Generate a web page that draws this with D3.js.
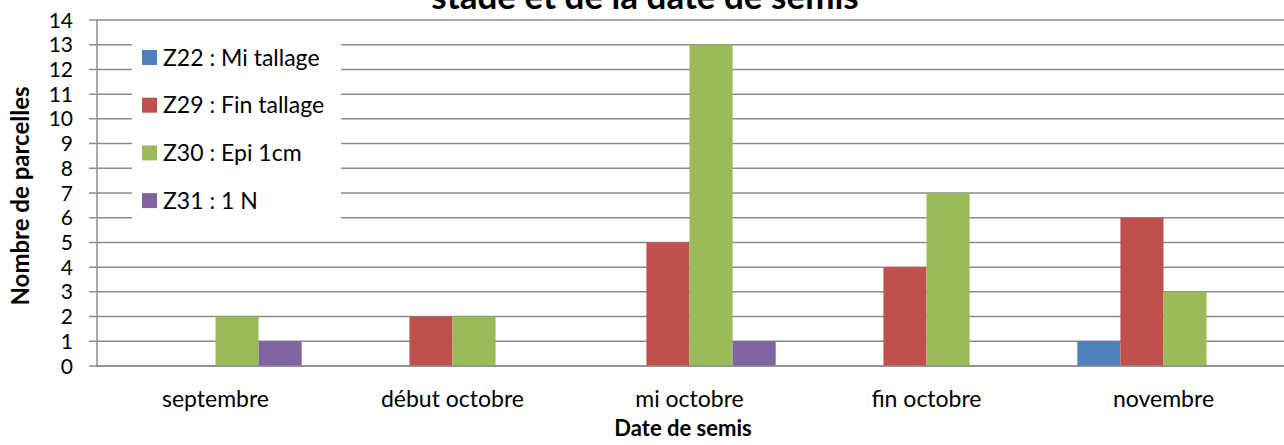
<!DOCTYPE html>
<html><head><meta charset="utf-8">
<script src="https://cdn.jsdelivr.net/npm/d3@7"></script>
<style>body{margin:0;background:#fff}svg{display:block}</style>
</head><body>
<svg id="c" width="1284" height="445"></svg>
<script>
const categories = ["septembre","début octobre","mi octobre","fin octobre","novembre"];
const seriesNames = ["Z22 : Mi tallage","Z29 : Fin tallage","Z30 : Epi 1cm","Z31 : 1 N"];
const z22 = [0,0,0,0,1];
const z29 = [0,2,5,4,6];
const z30 = [2,2,13,7,3];
const z31 = [1,0,1,0,0];
const colors = ["#4F81BD","#C0504D","#9BBB59","#8064A2"];
const yTicks = d3.range(0,15);
const values = [z22,z29,z30,z31];

const font = "Lato, 'Open Sans', sans-serif";
const svg = d3.select("#c");
const m = {left:97, top:20, right:1282, bottom:366};
const x = d3.scaleBand().domain(categories).range([m.left,m.right]).paddingInner(0).paddingOuter(0);
const y = d3.scaleLinear().domain([0,14]).range([m.bottom,m.top]);
const barW = x.bandwidth()/(4+1.5);
const xs = d3.scaleBand().domain(d3.range(4)).range([x.bandwidth()/2-2*barW, x.bandwidth()/2+2*barW]);

// gridlines
svg.append("g").selectAll("line").data(yTicks).join("line")
  .attr("x1",m.left-8).attr("x2",1284).attr("y1",d=>y(d)).attr("y2",d=>y(d))
  .attr("stroke","#8c8c8c").attr("stroke-width",1.5);
// y axis line
svg.append("line").attr("x1",m.left).attr("x2",m.left).attr("y1",m.top).attr("y2",m.bottom+1)
  .attr("stroke","#8c8c8c").attr("stroke-width",1.5);

// legend box (white, covers gridlines)
svg.append("rect").attr("x",132).attr("y",31).attr("width",209).attr("height",192).attr("fill","#fff");

// bars
const rows = [];
categories.forEach((c,i)=>values.forEach((s,j)=>rows.push({c,j,v:s[i]})));
svg.append("g").selectAll("rect").data(rows.filter(d=>d.v>0)).join("rect")
  .attr("x",d=>x(d.c)+xs(d.j)).attr("width",xs.bandwidth())
  .attr("y",d=>y(d.v)).attr("height",d=>y(0)-y(d.v)).attr("fill",d=>colors[d.j]);

// x axis
svg.append("line").attr("x1",m.left).attr("x2",1284).attr("y1",y(0)).attr("y2",y(0))
  .attr("stroke","#8c8c8c").attr("stroke-width",1.5);

// y tick labels
svg.append("g").selectAll("text").data(yTicks).join("text")
  .attr("x",m.left-24).attr("y",d=>y(d)).attr("dy","0.36em").attr("text-anchor","end")
  .attr("font-family",font).attr("font-size",21).attr("fill","#000").text(d=>d);
// x tick labels
svg.append("g").selectAll("text").data(categories).join("text")
  .attr("x",d=>x(d)+x.bandwidth()/2).attr("y",y(0)+41).attr("text-anchor","middle")
  .attr("font-family",font).attr("font-size",23).attr("fill","#000").text(d=>d);

// legend
const lg = svg.append("g").selectAll("g").data(seriesNames).join("g")
  .attr("transform",(d,i)=>`translate(142,${57.5+i*47.7})`);
lg.append("rect").attr("x",0).attr("y",-7.5).attr("width",15).attr("height",15).attr("fill",(d,i)=>colors[i]);
lg.append("text").attr("x",21).attr("y",0).attr("dy","0.36em").attr("font-family",font)
  .attr("font-size",23).attr("fill","#000").text(d=>d);

// titles
svg.append("text").attr("x",645).attr("y",9).attr("text-anchor","middle")
  .attr("font-family",font).attr("font-size",35).attr("font-weight","bold").text("stade et de la date de semis");
svg.append("text").attr("x",683).attr("y",436).attr("text-anchor","middle")
  .attr("font-family",font).attr("font-size",22).attr("font-weight","bold").text("Date de semis");
svg.append("text").attr("transform","translate(29,196) rotate(-90)").attr("text-anchor","middle")
  .attr("font-family",font).attr("font-size",24).attr("font-weight","bold").text("Nombre de parcelles");
</script>
</body></html>
